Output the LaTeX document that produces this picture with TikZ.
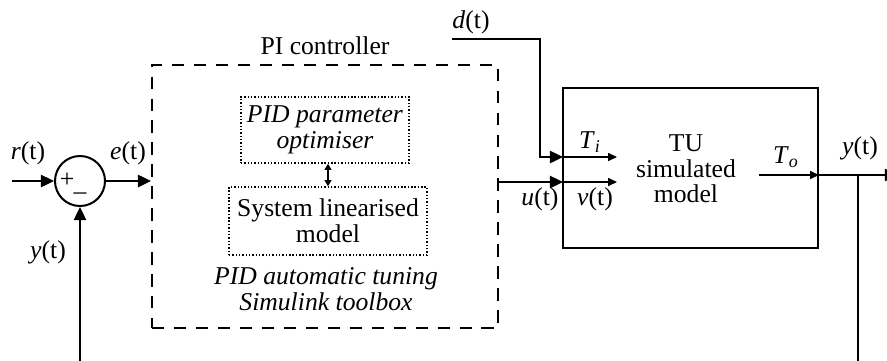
\documentclass[tikz,border=0pt]{standalone}
\usepackage{fontspec}
\setmainfont{Liberation Serif}
\usepackage{tikz}
\usetikzlibrary{arrows.meta,positioning,calc}
\tikzset{
  sigline/.style={draw=black, line width=1.15pt, -{Triangle[length=7.5pt,width=7pt]}},
  plainline/.style={draw=black, line width=1.15pt},
  thinarrow/.style={draw=black, line width=0.75pt, -{Triangle[length=5pt,width=4.5pt]}},
  dblarrow/.style={draw=black, line width=0.75pt, {Triangle[length=3.5pt,width=4pt]}-{Triangle[length=3.5pt,width=4pt]}},
  sumnode/.style={circle, draw=black, line width=1.15pt, minimum size=1.0cm, inner sep=0pt},
  ctrlbox/.style={draw=black, line width=1.15pt, dash pattern=on 7pt off 5.5pt, minimum width=6.92cm, minimum height=5.26cm},
  subbox/.style={draw=black, line width=0.9pt, dash pattern=on 0.8pt off 1.1pt, inner sep=0pt},
  plantbox/.style={draw=black, line width=1.15pt, minimum width=5.1cm, minimum height=3.2cm},
  lab/.style={font=\fontsize{14.6}{14.6}\selectfont, align=center, inner sep=1pt},
}
\newcommand{\sig}[1]{\textit{#1}(t)}

\begin{document}
\begin{tikzpicture}[x=0.02cm, y=-0.02cm]
  \useasboundingbox (0,0) rectangle (887,360);

  \node[sumnode] (sum) at (80,181) {};
  \node[lab] (plus) at (67,180) {+};
  \node[lab] (minus) at (80,196) {–};

  \node[ctrlbox] (pi) at (325,196.5) {};
  \node[lab] (pilab) at (325,46) {PI controller};
  \node[lab, subbox, minimum width=3.36cm, minimum height=1.32cm] (opt) at (325,130) {\textit{PID parameter}\\\textit{optimiser}};
  \node[lab, subbox, minimum width=3.96cm, minimum height=1.36cm] (lin) at (328,221) {System linearised\\model};
  \draw[dblarrow] (lin.north |- opt.south) -- (lin.north);
  \node[lab] (tune) at (326,289) {\textit{PID automatic tuning}\\\textit{Simulink toolbox}};

  \node[plantbox] (tu) at (690.5,168) {};
  \node[lab] (tutext) at (686,169) {TU\\simulated\\model};

  \coordinate (rin) at (12,181);
  \draw[sigline] (rin) -- (sum);
  \node[lab] (rlab) at (28,153) {\sig{r}};
  \draw[sigline] (sum) -- (sum -| pi.west);
  \node[lab] (elab) at (128,153) {\sig{e}};
  \coordinate (fbl) at (80,380);
  \draw[sigline] (fbl) -- (sum.south);
  \node[lab] (ylab) at (48,252) {\sig{y}};

  \coordinate (dstart) at (452,39);
  \coordinate (dbend) at (540,157);
  \coordinate (tiin) at (563,157);
  \draw[sigline] (dstart) -| (dbend) -- (tiin);
  \node[lab] (dlab) at (471,22) {\sig{d}};
  \coordinate (uin) at (563,182);
  \draw[sigline] (pi.east |- uin) -- (uin);
  \node[lab] (ulab) at (540,199) {\sig{u}};

  \coordinate (tiout) at (617,157);
  \draw[thinarrow] (tiin) -- (tiout);
  \node[lab] (tilab) at (590,142) {\textit{T}\textsubscript{\textit{i}}};
  \coordinate (vout) at (617,182);
  \draw[thinarrow] (uin) -- (vout);
  \node[lab] (vlab) at (595,199) {\sig{v}};
  \coordinate (toin) at (759,175);
  \draw[thinarrow] (toin) -- (toin -| tu.east);
  \node[lab] (tolab) at (786,157) {\textit{T}\textsubscript{\textit{o}}};

  \coordinate (yout) at (898,175);
  \draw[sigline] (toin -| tu.east) -- (yout);
  \coordinate (branch) at (858,175);
  \coordinate (fbr) at (858,380);
  \draw[plainline] (branch) -- (fbr);
  \node[lab] (ylab2) at (860,148) {\sig{y}};
\end{tikzpicture}
\end{document}
